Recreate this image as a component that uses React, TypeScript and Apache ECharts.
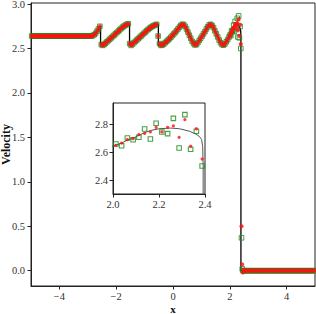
import React, { useEffect, useRef } from "react";
import * as echarts from "echarts";

// Shared marker values (both schemes overlap) on a 0.05 grid from x = -4.975 to 1.975
const sharedStart = -4.975;
const sharedStep = 0.05;
const sharedVelocity = [
  2.64, 2.64, 2.64, 2.64, 2.64, 2.64, 2.64, 2.64, 2.64, 2.64,
  2.64, 2.64, 2.64, 2.64, 2.64, 2.64, 2.64, 2.64, 2.64, 2.64,
  2.64, 2.64, 2.64, 2.64, 2.64, 2.64, 2.64, 2.64, 2.64, 2.64,
  2.64, 2.64, 2.64, 2.64, 2.64, 2.64, 2.64, 2.64, 2.64, 2.64,
  2.64, 2.64, 2.64,
  2.645, 2.655, 2.67, 2.695, 2.72, 2.75, 2.545, 2.535, 2.545, 2.56,
  2.575, 2.59, 2.605, 2.62, 2.635, 2.65, 2.665, 2.68, 2.695, 2.71,
  2.725, 2.74, 2.752, 2.763, 2.772, 2.778, 2.555, 2.535, 2.55, 2.565,
  2.58, 2.595, 2.61, 2.625, 2.64, 2.655, 2.67, 2.685, 2.7, 2.715,
  2.728, 2.74, 2.75, 2.758, 2.765, 2.772, 2.64, 2.555, 2.535, 2.54,
  2.55, 2.565, 2.58, 2.595, 2.61, 2.627, 2.645, 2.663, 2.68, 2.7,
  2.72, 2.74, 2.76, 2.772, 2.77, 2.75, 2.72, 2.685, 2.65, 2.615,
  2.58, 2.555, 2.54, 2.545, 2.565, 2.59, 2.615, 2.64, 2.665, 2.69,
  2.72, 2.745, 2.765, 2.772, 2.76, 2.735, 2.7, 2.665, 2.63, 2.595,
  2.565, 2.545, 2.538, 2.55, 2.575, 2.6, 2.63,
];

// Scheme-specific values on a 0.025 grid from x = 2.0125 (near the shock)
const fineStart = 2.0125;
const fineStep = 0.025;
const redFine = [
  2.648, 2.664, 2.688, 2.695, 2.724, 2.733, 2.743, 2.776, 2.743, 2.776,
  2.786, 2.705, 2.831, 2.641, 2.766, 2.55, 0.5, 0.07, -0.02, 0.01,
];
const greenFine = [
  2.657, 2.645, 2.7, 2.688, 2.705, 2.764, 2.693, 2.805, 2.743, 2.731,
  2.84, 2.629, 2.867, 2.62, 2.748, 2.5, 0.37, 0.02, 0.0, 0.0,
];

// Right state behind the shock, 0.05 grid from x = 2.525
const rightStart = 2.525;
const rightStep = 0.05;
const rightVelocity = [
  0, 0, 0, 0, 0, 0, 0, 0, 0, 0,
  0, 0, 0, 0, 0, 0, 0, 0, 0, 0,
  0, 0, 0, 0, 0, 0, 0, 0, 0, 0,
  0, 0, 0, 0, 0, 0, 0, 0, 0, 0,
  0, 0, 0, 0, 0, 0, 0, 0, 0, 0,
];

// Reference (exact) solution polyline
const exactX = [
  -5, -2.85, -2.75, -2.65, -2.55, -2.55, -2.2, -1.9, -1.7, -1.6, -1.53, -1.53,
  -1.2, -0.9, -0.7, -0.6, -0.515, -0.515, -0.4, -0.3, -0.1, 0.1, 0.25, 0.33,
  0.42, 0.55, 0.68, 0.78, 0.9, 1.05, 1.2, 1.3, 1.4, 1.55, 1.67, 1.77,
  1.9, 2.0, 2.036, 2.062, 2.089, 2.113, 2.14, 2.167, 2.2, 2.25, 2.29, 2.333,
  2.36, 2.375, 2.385, 2.39, 2.392, 2.392, 5,
];
const exactY = [
  2.64, 2.64, 2.66, 2.7, 2.755, 2.535, 2.615, 2.7, 2.755, 2.772, 2.78, 2.535,
  2.62, 2.705, 2.75, 2.765, 2.775, 2.535, 2.537, 2.55, 2.6, 2.69, 2.75, 2.772,
  2.755, 2.67, 2.58, 2.54, 2.58, 2.65, 2.73, 2.772, 2.75, 2.65, 2.57, 2.538,
  2.59, 2.643, 2.662, 2.685, 2.7, 2.72, 2.74, 2.755, 2.766, 2.771, 2.766, 2.748,
  2.728, 2.712, 2.69, 2.64, 2.5, 0, 0,
];

const mainXTicks = [-4, -2, 0, 2, 4];
const mainYTicks = [0, 0.5, 1, 1.5, 2, 2.5, 3];
const insetXTicks = [2.0, 2.2, 2.4];
const insetYTicks = [2.4, 2.6, 2.8];

const FONT = "'Liberation Serif', 'DejaVu Serif', serif";

function seg(start: number, step: number, ys: number[]) {
  return ys.map((y, i) => [+(start + i * step).toFixed(4), y]);
}

export default function App() {
  const ref = useRef<HTMLDivElement>(null);
  useEffect(() => {
    document.body.style.margin = "0";
    if (!ref.current) return;
    const chart = echarts.init(ref.current, undefined, { renderer: "svg" });
    const shared = seg(sharedStart, sharedStep, sharedVelocity);
    const right = seg(rightStart, rightStep, rightVelocity);
    const redData = [...shared, ...seg(fineStart, fineStep, redFine), ...right];
    const greenData = [...shared, ...seg(fineStart, fineStep, greenFine), ...right];
    const exactData = exactX.map((x, i) => [x, exactY[i]]);
    const fmtMinus = (v: number, d: number) =>
      (v < 0 ? "\u2212" : "") + Math.abs(v).toFixed(d);
    const axisCommon = {
      axisLine: { show: true, onZero: false, lineStyle: { color: "#222", width: 1 } },
      splitLine: { show: false },
    };
    const labelStyle = { fontFamily: FONT, fontSize: 10.5, color: "#333" };
    chart.setOption({
      animation: false,
      backgroundColor: "#fff",
      grid: [
        {
          left: 31, top: 3, right: 1, bottom: 28,
          outerBoundsMode: "none", containLabel: false,
          show: true, borderColor: "#222", borderWidth: 1, backgroundColor: "#fff",
        },
        {
          left: 113, top: 103, width: 92, height: 91,
          outerBoundsMode: "none", containLabel: false,
          show: true, borderColor: "#222", borderWidth: 1, backgroundColor: "#fff",
          z: 5,
        },
      ],
      xAxis: [
        {
          type: "value", gridIndex: 0, min: -5, max: 5,
          ...axisCommon,
          axisTick: { show: true, length: 3.5, customValues: mainXTicks, lineStyle: { color: "#222" } },
          axisLabel: { ...labelStyle, margin: 5, customValues: mainXTicks, formatter: (v: number) => fmtMinus(v, 0) },
          name: "x", nameLocation: "middle", nameGap: 17, nameMoveOverlap: false,
          nameTextStyle: { fontFamily: FONT, fontSize: 11, fontWeight: "bold", color: "#111", lineHeight: 11 },
        },
        {
          type: "value", gridIndex: 1, min: 2.0, max: 2.4, z: 6,
          ...axisCommon,
          axisTick: { show: true, length: 3.5, customValues: insetXTicks, lineStyle: { color: "#222" } },
          axisLabel: { ...labelStyle, margin: 5, customValues: insetXTicks, formatter: (v: number) => v.toFixed(1) },
        },
      ],
      yAxis: [
        {
          type: "value", gridIndex: 0, min: -0.172, max: 3.012,
          ...axisCommon,
          axisTick: { show: true, length: 3.5, customValues: mainYTicks, lineStyle: { color: "#222" } },
          axisLabel: { ...labelStyle, margin: 6, customValues: mainYTicks, formatter: (v: number) => fmtMinus(v, 1) },
          name: "Velocity", nameLocation: "middle", nameGap: 19, nameRotate: 90, nameMoveOverlap: false,
          nameTextStyle: { fontFamily: FONT, fontSize: 12, fontWeight: "bold", color: "#111" },
        },
        {
          type: "value", gridIndex: 1, min: 2.3, max: 2.95, z: 6,
          ...axisCommon,
          axisTick: { show: true, length: 3.5, customValues: insetYTicks, lineStyle: { color: "#222" } },
          axisLabel: { ...labelStyle, margin: 5, customValues: insetYTicks, formatter: (v: number) => v.toFixed(1) },
        },
      ],
      series: [
        {
          type: "line", xAxisIndex: 0, yAxisIndex: 0, data: exactData,
          showSymbol: false, symbol: "none", lineStyle: { color: "#000", width: 1.3 }, z: 2,
        },
        {
          type: "scatter", xAxisIndex: 0, yAxisIndex: 0, data: greenData,
          symbol: "rect", symbolSize: 4.6,
          itemStyle: { color: "transparent", borderColor: "#1a8a1a", borderWidth: 1 }, z: 3,
        },
        {
          type: "scatter", xAxisIndex: 0, yAxisIndex: 0, data: redData,
          symbol: "circle", symbolSize: 4.2,
          itemStyle: { color: "#ff1010" }, z: 4,
        },
        {
          type: "line", xAxisIndex: 1, yAxisIndex: 1, data: exactData, clip: true,
          showSymbol: false, symbol: "none", lineStyle: { color: "#555", width: 1 }, z: 7,
        },
        {
          type: "scatter", xAxisIndex: 1, yAxisIndex: 1, data: seg(fineStart, fineStep, greenFine), clip: true,
          symbol: "rect", symbolSize: 4.5,
          itemStyle: { color: "transparent", borderColor: "#1a8a1a", borderWidth: 1.1 }, z: 8,
        },
        {
          type: "scatter", xAxisIndex: 1, yAxisIndex: 1, data: seg(fineStart, fineStep, redFine), clip: true,
          symbol: "circle", symbolSize: 3.2,
          itemStyle: { color: "#ff1010" }, z: 9,
        },
      ],
    });
    return () => chart.dispose();
  }, []);
  return <div ref={ref} style={{ width: 316, height: 314 }} />;
}
